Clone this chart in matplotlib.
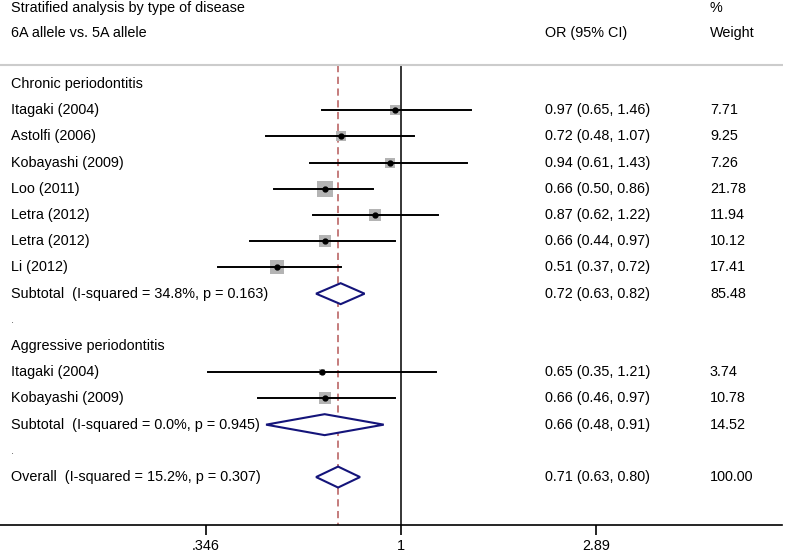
import numpy as np
import matplotlib.pyplot as plt
from matplotlib.ticker import NullLocator

plt.rcParams['font.family'] = ['Liberation Sans', 'DejaVu Sans']

title = "Stratified analysis by type of disease"
comparison = "6A allele vs. 5A allele"

groups = ["Chronic periodontitis", "Aggressive periodontitis"]

chronic_names = ["Itagaki (2004)", "Astolfi (2006)", "Kobayashi (2009)", "Loo (2011)",
                 "Letra (2012)", "Letra (2012)", "Li (2012)"]
chronic_or = [0.97, 0.72, 0.94, 0.66, 0.87, 0.66, 0.51]
chronic_lo = [0.65, 0.48, 0.61, 0.50, 0.62, 0.44, 0.37]
chronic_hi = [1.46, 1.07, 1.43, 0.86, 1.22, 0.97, 0.72]
chronic_wt = [7.71, 9.25, 7.26, 21.78, 11.94, 10.12, 17.41]

aggressive_names = ["Itagaki (2004)", "Kobayashi (2009)"]
aggressive_or = [0.65, 0.66]
aggressive_lo = [0.35, 0.46]
aggressive_hi = [1.21, 0.97]
aggressive_wt = [3.74, 10.78]

subtotal_labels = ["Subtotal  (I-squared = 34.8%, p = 0.163)",
                   "Subtotal  (I-squared = 0.0%, p = 0.945)"]
subtotal_or = [0.72, 0.66]
subtotal_lo = [0.63, 0.48]
subtotal_hi = [0.82, 0.91]
subtotal_wt = [85.48, 14.52]

overall_label = "Overall  (I-squared = 15.2%, p = 0.307)"
overall_or = 0.71
overall_lo = 0.63
overall_hi = 0.80
overall_wt = 100.00

xticks = [0.346, 1, 2.89]
xtick_labels = [".346", "1", "2.89"]

FS = 10.4
SQ = '#b4b4b4'
NAVY = '#14147a'
RED = '#c07272'

fig = plt.figure(figsize=(7.87, 5.53), dpi=100)
ax = fig.add_axes([0, 28 / 553, 1, 525 / 553])
ax.set_xscale('log')
ax.set_xlim(0.113, 8.15)
ax.set_ylim(16.83, -3.21)

tr = ax.get_yaxis_transform()
x_lab, x_or, x_wt = 11 / 787, 545 / 787, 710 / 787


def txt(x, y, s, size=FS, color='black'):
    ax.text(x, y, s, transform=tr, fontsize=size, color=color, va='center', ha='left')


# header
txt(x_lab, -2.92, title)
txt(x_lab, -1.95, comparison)
txt(x_wt, -2.92, "%")
txt(x_wt, -1.95, "Weight")
txt(x_or, -1.95, "OR (95% CI)")
yline = -0.72
ax.hlines(yline, 0, 783 / 787, transform=tr, color='#cccccc', lw=1.5)

ax.vlines(1, yline, 16.83, color='black', lw=1.1, zorder=1)
ax.vlines(overall_or, yline, 16.83, color=RED, lw=1.3, linestyles=(0, (4, 2.5)), zorder=1)


def study(y, name, o, lo, hi, w):
    txt(x_lab, y, name)
    ax.scatter([o], [y], s=6.3 * w, marker='s', color=SQ, lw=0, zorder=2)
    ax.plot([lo, hi], [y, y], color='black', lw=1.4, zorder=3)
    ax.plot([o], [y], 'o', color='black', ms=3.5, zorder=4)
    txt(x_or, y, f"{o:.2f} ({lo:.2f}, {hi:.2f})")
    txt(x_wt, y, f"{w:.2f}")


def diamond(y, label, o, lo, hi, w):
    txt(x_lab, y, label)
    ax.fill([lo, o, hi, o, lo], [y, y - 0.4, y, y + 0.4, y], facecolor='white',
            edgecolor=NAVY, lw=1.5, zorder=3)
    txt(x_or, y, f"{o:.2f} ({lo:.2f}, {hi:.2f})")
    txt(x_wt, y, f"{w:.2f}")


row = 0
blocks = [
    (chronic_names, chronic_or, chronic_lo, chronic_hi, chronic_wt),
    (aggressive_names, aggressive_or, aggressive_lo, aggressive_hi, aggressive_wt),
]
for g, (names, ors, los, his, wts) in enumerate(blocks):
    txt(x_lab, row, groups[g])
    row += 1
    for i in range(len(names)):
        study(row, names[i], ors[i], los[i], his[i], wts[i])
        row += 1
    diamond(row, subtotal_labels[g], subtotal_or[g], subtotal_lo[g], subtotal_hi[g], subtotal_wt[g])
    row += 1
    txt(x_lab, row, ".", size=8, color='#555555')
    row += 1

diamond(row, overall_label, overall_or, overall_lo, overall_hi, overall_wt)

for s in ['top', 'left', 'right']:
    ax.spines[s].set_visible(False)
ax.spines['bottom'].set_bounds(0.113, 7.93)
ax.spines['bottom'].set_linewidth(1.2)
ax.set_yticks([])
ax.set_xticks(xticks)
ax.set_xticklabels(xtick_labels)
ax.xaxis.set_minor_locator(NullLocator())
ax.tick_params(axis='x', direction='out', length=7, width=1.2, labelsize=FS, pad=3)

fig.savefig('out.png', dpi=100)
